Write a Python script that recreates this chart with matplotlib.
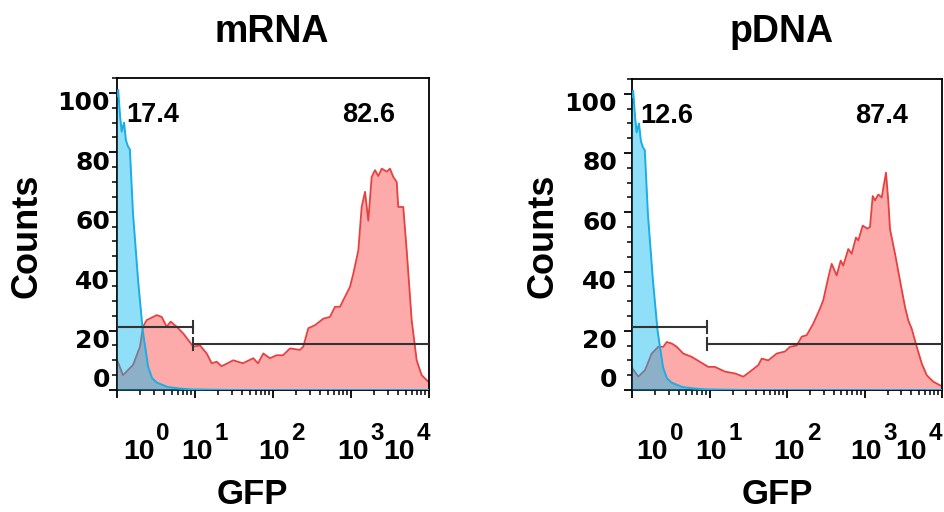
import matplotlib
matplotlib.use("Agg")
import matplotlib.pyplot as plt
import numpy as np
from matplotlib.ticker import LogLocator, MultipleLocator, NullFormatter

# control (untransfected) histogram, x in decades of GFP
ctrl_log = [0.0, 0.015, 0.04, 0.06, 0.09, 0.115, 0.14, 0.165, 0.205, 0.27, 0.33,
            0.40, 0.45, 0.51, 0.65, 0.80, 0.97, 1.5, 4.0]
ctrl_counts = [99, 101, 92, 87, 90, 84, 82, 81, 59.5, 37, 20,
               7.7, 4.0, 2.5, 1.0, 0.5, 0.2, 0.0, 0.0]

mrna_log = [0.0, 0.01, 0.077, 0.205, 0.295, 0.333, 0.38, 0.51, 0.573, 0.637, 0.688,
            0.765, 0.85, 0.914, 0.978, 1.064, 1.15, 1.214, 1.278, 1.342, 1.49,
            1.615, 1.747, 1.808, 1.876, 1.96, 2.047, 2.128, 2.218, 2.346, 2.388,
            2.453, 2.538, 2.645, 2.73, 2.795, 2.859, 2.923, 2.987, 3.03, 3.094,
            3.137, 3.18, 3.222, 3.265, 3.308, 3.35, 3.394, 3.458, 3.5, 3.542,
            3.586, 3.606, 3.67, 3.714, 3.778, 3.842, 3.906, 3.99, 4.0]
mrna_counts = [10, 9.5, 5, 8.4, 14.6, 21.3, 23.5, 25.2, 24.6, 21.3, 23,
               21.3, 19, 16.8, 14.6, 15, 12.3, 9, 9.5, 8, 10,
               9, 10.7, 9, 12.3, 10.7, 11.7, 11.7, 14, 13.5, 14.6,
               20.8, 21.8, 24, 24.6, 28, 28, 31.4, 34.7, 39.2, 47,
               61.6, 66.7, 57, 71.7, 74, 72, 74.5, 73.5, 74.5, 71.7,
               70, 61.6, 61.6, 47, 23.5, 10, 5, 2.8, 2.6]

pdna_log = [0.0, 0.004, 0.081, 0.168, 0.254, 0.339, 0.404, 0.448, 0.512, 0.577,
            0.662, 0.77, 0.877, 0.985, 1.071, 1.2, 1.329, 1.436, 1.523, 1.63,
            1.674, 1.759, 1.867, 1.974, 2.039, 2.125, 2.19, 2.254, 2.339, 2.426,
            2.468, 2.533, 2.577, 2.641, 2.693, 2.726, 2.791, 2.835, 2.89, 2.92,
            2.977, 3.036, 3.071, 3.106, 3.135, 3.178, 3.222, 3.277, 3.307, 3.329,
            3.394, 3.458, 3.523, 3.565, 3.609, 3.674, 3.738, 3.803, 3.888, 3.996]
pdna_counts = [7.5, 7.3, 4.5, 6.7, 12.3, 14.6, 14.6, 16.2, 15.7, 14.6,
               12.3, 11.2, 9.5, 7.8, 7.8, 6.2, 5.6, 4.5, 6.2, 8.4,
               10.6, 10, 12.3, 13, 14.6, 15, 18, 18.5, 22.4, 27.5,
               30.3, 38, 42.6, 38.7, 43.7, 42, 47.6, 46, 51.5, 50.5,
               55.5, 54.5, 55, 65.5, 64, 66, 65, 73.4, 63.9, 54.3,
               46, 37, 28, 23.5, 20.7, 14.6, 9, 5, 2.8, 1.3]

titles = ["mRNA", "pDNA"]
neg_pct = ["17.4", "12.6"]
pos_pct = ["82.6", "87.4"]
gate_split = 9.3
gate_neg_y = 21.2
gate_pos_y = 15.5
ytick_vals = [0, 20, 40, 60, 80, 100]
xtick_exp = ["0", "1", "2", "3", "4"]

RED_LINE = "#e8403f"
RED_FILL = "#fcaaaa"
BLUE_LINE = "#1aaee6"
BLUE_FILL = "#07b8f0"
GATE = "#333333"
ARIAL = "Liberation Sans"

fig = plt.figure(figsize=(9.44, 5.12), dpi=100)
W, H = 944, 512

panels = [
    dict(rect=[117 / W, 122 / H, 312 / W, 312 / H], red=(mrna_log, mrna_counts),
         xlab=[0.28, 1.03, 2.01, 3.02, 3.62], ylab_dx=-5, title_x=272, gfp_x=252, counts_x=27),
    dict(rect=[632 / W, 122 / H, 310 / W, 311 / H], red=(pdna_log, pdna_counts),
         xlab=[0.26, 1.02, 2.03, 3.02, 3.60], ylab_dx=-10.8, title_x=782, gfp_x=777, counts_x=543),
]

for i, p in enumerate(panels):
    ax = fig.add_axes(p["rect"])
    ax.set_xscale("log")
    ax.set_xlim(1, 1e4)
    ax.set_ylim(0, 105)

    rx = 10 ** np.asarray(p["red"][0])
    ry = np.asarray(p["red"][1])
    ax.fill_between(rx, ry, color=RED_FILL, lw=0, zorder=1)
    ax.plot(rx, ry, color=RED_LINE, lw=1.3, zorder=2)

    cx = 10 ** np.asarray(ctrl_log)
    cy = np.asarray(ctrl_counts)
    ax.fill_between(cx, cy, color=BLUE_FILL, alpha=0.45, lw=0, zorder=3)
    ax.plot(cx, cy, color=BLUE_LINE, lw=1.4, zorder=4)

    # gates
    ax.plot([1, gate_split], [gate_neg_y, gate_neg_y], color=GATE, lw=1.5, zorder=5)
    ax.plot([gate_split, gate_split], [gate_neg_y - 2, gate_neg_y + 2], color=GATE, lw=1.5, zorder=5)
    ax.plot([gate_split, 1e4], [gate_pos_y, gate_pos_y], color=GATE, lw=1.5, zorder=5)
    ax.plot([gate_split, gate_split], [gate_pos_y - 2, gate_pos_y + 2], color=GATE, lw=1.5, zorder=5)

    for s in ax.spines.values():
        s.set_linewidth(1.3)
        s.set_color("black")

    ax.xaxis.set_major_locator(LogLocator(base=10, numticks=10))
    ax.xaxis.set_minor_locator(LogLocator(base=10, subs=np.arange(2, 10), numticks=20))
    ax.xaxis.set_minor_formatter(NullFormatter())
    ax.yaxis.set_major_locator(MultipleLocator(20))
    ax.yaxis.set_minor_locator(MultipleLocator(5))
    ax.tick_params(which="major", direction="out", length=6, width=1.3,
                   labelbottom=False, labelleft=False)
    ax.tick_params(which="minor", direction="out", length=3.5, width=1.1)

    # y labels (offset from the ticks as in the source)
    for v in ytick_vals:
        dy = 7.2 if v == 0 else -7.5
        ax.annotate(str(v), xy=(0, v), xycoords=("axes fraction", "data"),
                    xytext=(p["ylab_dx"], dy), textcoords="offset points",
                    ha="right", va="center", fontsize=18, fontweight="bold",
                    family="DejaVu Sans", annotation_clip=False)

    # x labels 10^n
    for e, pos in zip(xtick_exp, p["xlab"]):
        ax.annotate("10", xy=(10 ** pos, 0), xycoords=("data", "axes fraction"),
                    xytext=(0, -44.6), textcoords="offset points", ha="center", va="center",
                    fontsize=20.5, fontweight="bold", family=ARIAL, annotation_clip=False)
        ax.annotate(e, xy=(10 ** pos, 0), xycoords=("data", "axes fraction"),
                    xytext=(17.5, -31.5), textcoords="offset points", ha="center", va="center",
                    fontsize=17.5, fontweight="bold", family=ARIAL, annotation_clip=False)

    ax.text(0.113, 0.88, neg_pct[i], transform=ax.transAxes, ha="center", va="center",
            fontsize=19.5, fontweight="bold", family=ARIAL)
    ax.text(0.805, 0.88, pos_pct[i], transform=ax.transAxes, ha="center", va="center",
            fontsize=19.5, fontweight="bold", family=ARIAL)

    fig.text(p["title_x"] / W, (H - 42) / H, titles[i], ha="center", va="baseline",
             fontsize=27, fontweight="bold", family=ARIAL)
    fig.text(p["gfp_x"] / W, (H - 504) / H, "GFP", ha="center", va="baseline",
             fontsize=25, fontweight="bold", family=ARIAL)
    fig.text(p["counts_x"] / W, (H - 236) / H, "Counts", ha="center", va="center",
             rotation=90, fontsize=26, fontweight="bold", family=ARIAL)

fig.savefig("out.png", dpi=100)
